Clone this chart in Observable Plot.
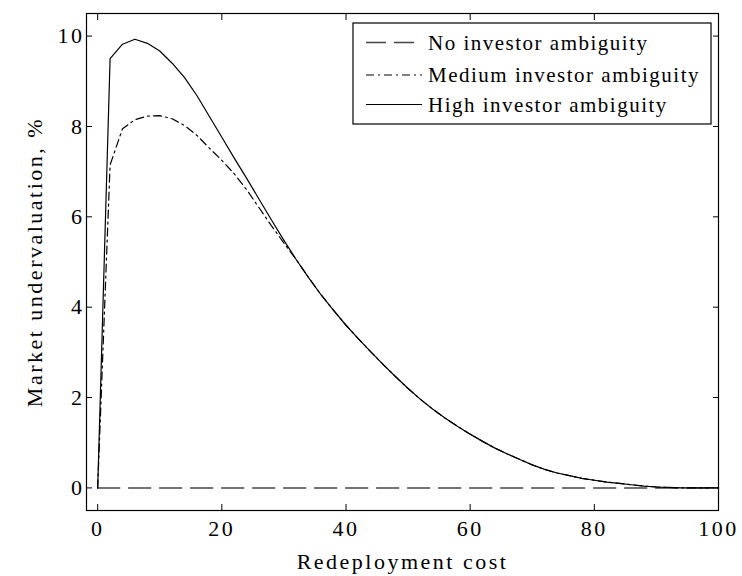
<!DOCTYPE html>
<html>
<head>
<meta charset="utf-8">
<script src="https://cdn.jsdelivr.net/npm/d3@7"></script>
<script src="https://cdn.jsdelivr.net/npm/@observablehq/plot@0.6"></script>
<style>
  body { margin: 0; background: #fff; }
  #chart { position: relative; width: 742px; height: 576px; }
  #chart svg, #chart svg text { font-family: "Liberation Serif", "Times New Roman", serif; }
</style>
</head>
<body>
<div id="chart"></div>
<script>
// ---- Data ----
const cost = [0, 2, 4, 6, 8, 10, 12, 14, 16, 18, 20, 22, 24, 26, 28, 30, 32, 34, 36, 38, 40,
  42, 44, 46, 48, 50, 52, 54, 56, 58, 60, 62, 64, 66, 68, 70, 72, 74, 76, 78, 80,
  82, 84, 86, 88, 90, 92, 94, 96, 98, 100];

const noAmbiguity = [0, 0, 0, 0, 0, 0, 0, 0, 0, 0, 0, 0, 0, 0, 0, 0, 0, 0, 0, 0, 0,
  0, 0, 0, 0, 0, 0, 0, 0, 0, 0, 0, 0, 0, 0, 0, 0, 0, 0, 0, 0,
  0, 0, 0, 0, 0, 0, 0, 0, 0, 0];

const mediumAmbiguity = [0, 7.15, 7.95, 8.15, 8.23, 8.24, 8.17, 8.02, 7.80, 7.52, 7.25,
  6.95, 6.60, 6.20, 5.80, 5.42, 5.05, 4.65, 4.27, 3.93, 3.60,
  3.30, 3.01, 2.73, 2.46, 2.20, 1.96, 1.74, 1.54, 1.36, 1.19,
  1.03, 0.88, 0.75, 0.63, 0.51, 0.41, 0.33, 0.27, 0.21, 0.17,
  0.13, 0.10, 0.07, 0.04, 0.02, 0.01, 0, 0, 0, 0];

const highAmbiguity = [0, 9.50, 9.82, 9.93, 9.84, 9.67, 9.40, 9.08, 8.68, 8.22, 7.76,
  7.30, 6.85, 6.39, 5.93, 5.48, 5.05, 4.65, 4.27, 3.93, 3.60,
  3.30, 3.01, 2.73, 2.46, 2.20, 1.96, 1.74, 1.54, 1.36, 1.19,
  1.03, 0.88, 0.75, 0.63, 0.51, 0.41, 0.33, 0.27, 0.21, 0.17,
  0.13, 0.10, 0.07, 0.04, 0.02, 0.01, 0, 0, 0, 0];

const seriesNames = ["No investor ambiguity", "Medium investor ambiguity", "High investor ambiguity"];
const xTicks = [0, 20, 40, 60, 80, 100];
const yTicks = [0, 2, 4, 6, 8, 10];
const xLabel = "Redeployment cost";
const yLabel = "Market undervaluation, %";

// ---- Styles ----
const dashes = ["22,9", "8,4,2,4", null];
const strokes = ["#444", "#000", "#000"];
const widths = [1.5, 1.2, 1.2];

const valuesBySeries = [noAmbiguity, mediumAmbiguity, highAmbiguity];
const tables = valuesBySeries.map((vals, i) =>
  cost.map((c, j) => ({cost: c, value: vals[j], series: seriesNames[i]}))
);

const FONT = "Liberation Serif, Times New Roman, serif";

const chart = Plot.plot({
  width: 742,
  height: 576,
  marginLeft: 86,
  marginRight: 24,
  marginTop: 13,
  marginBottom: 66,
  x: {domain: [-1.8, 100]},
  y: {domain: [-0.5, 10.5]},
  style: {fontFamily: FONT, fontSize: "22px", letterSpacing: "2.5px", color: "black", background: "white", overflow: "visible"},
  marks: [
    ...tables.map((t, i) => Plot.line(t, {
      x: "cost", y: "value",
      stroke: strokes[i], strokeWidth: widths[i],
      strokeDasharray: dashes[i] ?? undefined,
      strokeLinejoin: "round"
    })),
    Plot.frame({stroke: "black", strokeWidth: 1.2}),
    Plot.axisX({ticks: xTicks, anchor: "bottom", tickSize: -6, tickPadding: 16, label: null, tickFormat: d => String(d)}),
    Plot.axisX({ticks: xTicks, anchor: "top", tickSize: -6, fill: "none", label: null}),
    Plot.axisY({ticks: yTicks, anchor: "left", tickSize: -6, tickPadding: 8, label: null, tickFormat: d => String(d)}),
    Plot.axisY({ticks: yTicks, anchor: "right", tickSize: -6, fill: "none", label: null}),
    Plot.text([xLabel], {text: d => d, frameAnchor: "bottom", dy: 58, lineAnchor: "bottom", textAnchor: "middle", fill: "black"}),
    Plot.text([yLabel], {text: d => d, frameAnchor: "left", dx: -45, rotate: -90, lineAnchor: "bottom", textAnchor: "middle", fill: "black"})
  ]
});

// ---- Legend (inside the plot, top-right) ----
const svg = d3.select(chart);
const lg = svg.append("g").attr("class", "legend").attr("text-anchor", "start");
const box = {x: 353, y: 23, w: 358, h: 101};
lg.append("rect").attr("x", box.x).attr("y", box.y).attr("width", box.w).attr("height", box.h)
  .attr("fill", "white").attr("stroke", "black").attr("stroke-width", 1.2);
const rowY = [42.5, 75, 104.5];
seriesNames.forEach((name, i) => {
  const line = lg.append("line").attr("x1", 366).attr("x2", 422).attr("y1", rowY[i]).attr("y2", rowY[i])
    .attr("stroke", strokes[i]).attr("stroke-width", widths[i]);
  if (dashes[i]) line.attr("stroke-dasharray", i === 0 ? "20,8" : dashes[i]);
  lg.append("text").attr("x", 428).attr("y", rowY[i] + 7)
    .attr("text-anchor", "start")
    .attr("font-size", 21).attr("letter-spacing", "1.5px")
    .attr("fill", "black").text(name);
});

document.getElementById("chart").appendChild(chart);
</script>
</body>
</html>
